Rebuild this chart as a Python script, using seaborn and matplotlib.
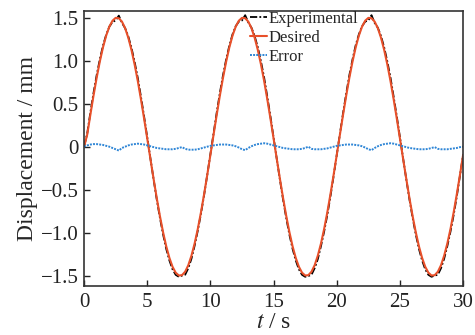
import numpy as np
import pandas as pd
import matplotlib
matplotlib.use('Agg')
import matplotlib.pyplot as plt
import seaborn as sns

# Tiempo (s), paso 0.25 s
t = np.arange(0, 30.01, 0.25)

# Desplazamiento deseado (mm)
desired = [
    0.000, 0.141, 0.373, 0.596, 0.804, 0.992, 1.156, 1.291, 1.395, 1.464,
    1.497, 1.493, 1.453, 1.377, 1.266, 1.125, 0.956, 0.764, 0.552, 0.327,
    0.094, -0.141, -0.373, -0.596, -0.804, -0.992, -1.156, -1.291, -1.395, -1.464,
    -1.497, -1.493, -1.453, -1.377, -1.266, -1.125, -0.956, -0.764, -0.552, -0.327,
    -0.094, 0.141, 0.373, 0.596, 0.804, 0.992, 1.156, 1.291, 1.395, 1.464,
    1.497, 1.493, 1.453, 1.377, 1.266, 1.125, 0.956, 0.764, 0.552, 0.327,
    0.094, -0.141, -0.373, -0.596, -0.804, -0.992, -1.156, -1.291, -1.395, -1.464,
    -1.497, -1.493, -1.453, -1.377, -1.266, -1.125, -0.956, -0.764, -0.552, -0.327,
    -0.094, 0.141, 0.373, 0.596, 0.804, 0.992, 1.156, 1.291, 1.395, 1.464,
    1.497, 1.493, 1.453, 1.377, 1.266, 1.125, 0.956, 0.764, 0.552, 0.327,
    0.094, -0.141, -0.373, -0.596, -0.804, -0.992, -1.156, -1.291, -1.395, -1.464,
    -1.497, -1.493, -1.453, -1.377, -1.266, -1.125, -0.956, -0.764, -0.552, -0.327,
    -0.094,
]

# Desplazamiento experimental (mm)
experimental = [
    0.000, 0.156, 0.398, 0.626, 0.834, 1.017, 1.176, 1.301, 1.395, 1.449,
    1.467, 1.523, 1.438, 1.377, 1.281, 1.150, 0.986, 0.799, 0.582, 0.352,
    0.109, -0.136, -0.378, -0.611, -0.824, -1.017, -1.186, -1.321, -1.425, -1.489,
    -1.512, -1.498, -1.488, -1.412, -1.301, -1.150, -0.976, -0.779, -0.562, -0.327,
    -0.084, 0.156, 0.398, 0.626, 0.834, 1.017, 1.176, 1.306, 1.400, 1.454,
    1.467, 1.528, 1.443, 1.382, 1.286, 1.155, 0.991, 0.804, 0.582, 0.352,
    0.104, -0.141, -0.383, -0.616, -0.829, -1.022, -1.186, -1.321, -1.425, -1.489,
    -1.512, -1.503, -1.488, -1.412, -1.306, -1.155, -0.986, -0.794, -0.577, -0.342,
    -0.094, 0.151, 0.393, 0.621, 0.834, 1.017, 1.181, 1.306, 1.400, 1.454,
    1.467, 1.528, 1.438, 1.382, 1.286, 1.155, 0.991, 0.804, 0.582, 0.352,
    0.109, -0.136, -0.378, -0.611, -0.824, -1.017, -1.186, -1.321, -1.425, -1.489,
    -1.512, -1.498, -1.488, -1.412, -1.301, -1.155, -0.986, -0.794, -0.577, -0.337,
    -0.094,
]

# Error (mm)
error = [
    0.000, 0.015, 0.025, 0.030, 0.030, 0.025, 0.020, 0.010, 0.000, -0.015,
    -0.030, -0.045, -0.015, 0.000, 0.015, 0.025, 0.030, 0.035, 0.030, 0.025,
    0.015, 0.005, -0.005, -0.015, -0.020, -0.025, -0.030, -0.030, -0.030, -0.025,
    -0.015, -0.005, -0.025, -0.035, -0.035, -0.035, -0.030, -0.020, -0.010, 0.000,
    0.010, 0.015, 0.020, 0.025, 0.025, 0.025, 0.020, 0.015, 0.005, -0.010,
    -0.030, -0.040, -0.015, 0.005, 0.020, 0.030, 0.035, 0.040, 0.035, 0.025,
    0.015, 0.005, -0.005, -0.015, -0.020, -0.025, -0.030, -0.030, -0.030, -0.025,
    -0.015, 0.000, -0.025, -0.030, -0.030, -0.030, -0.025, -0.020, -0.010, 0.000,
    0.010, 0.015, 0.020, 0.025, 0.025, 0.025, 0.020, 0.015, 0.005, -0.010,
    -0.030, -0.040, -0.015, 0.005, 0.020, 0.030, 0.035, 0.040, 0.035, 0.025,
    0.015, 0.005, -0.005, -0.015, -0.020, -0.025, -0.030, -0.030, -0.030, -0.025,
    -0.015, -0.005, -0.025, -0.030, -0.030, -0.030, -0.025, -0.020, -0.015, -0.005,
    0.000,
]

sns.set_style('ticks')
plt.rcParams['font.family'] = ['Liberation Serif', 'DejaVu Serif']
plt.rcParams['mathtext.fontset'] = 'stix'

fig = plt.figure(figsize=(4.75, 3.35), dpi=100)
ax = fig.add_axes([0.177, 0.146, 0.798, 0.822])

sns.lineplot(x=t, y=experimental, ax=ax, color='black', lw=1.3,
             linestyle=(0, (4, 1.2, 1, 1.2)), label='Experimental')
sns.lineplot(x=t, y=desired, ax=ax, color='#e8502a', lw=1.5, label='Desired')
sns.lineplot(x=t, y=error, ax=ax, color='#2f86d6', lw=1.4,
             linestyle=(0, (1, 0.6)), label='Error')

ax.set_xlim(0, 30)
ax.set_ylim(-1.62, 1.58)
ax.set_xticks([0, 5, 10, 15, 20, 25, 30])
ax.set_yticks([-1.5, -1.0, -0.5, 0, 0.5, 1.0, 1.5])
ax.set_yticklabels(['\u22121.5', '\u22121.0', '\u22120.5', '0', '0.5', '1.0', '1.5'])
ax.tick_params(direction='in', length=4, width=1, labelsize=15, colors='#222222')
ax.tick_params(axis='x', pad=5)
ax.tick_params(axis='y', pad=4)
for s in ax.spines.values():
    s.set_linewidth(1.2)
    s.set_color('#333333')

ax.set_xlabel('$t$ / s', fontsize=17, labelpad=0)
ax.set_ylabel('Displacement / mm', fontsize=17, labelpad=2)

ax.legend(loc='upper left', bbox_to_anchor=(0.42, 1.025), frameon=False,
          fontsize=12, handlelength=1.0, handletextpad=0.1, labelspacing=0.18,
          borderaxespad=0)

plt.savefig('out.png', dpi=100)
